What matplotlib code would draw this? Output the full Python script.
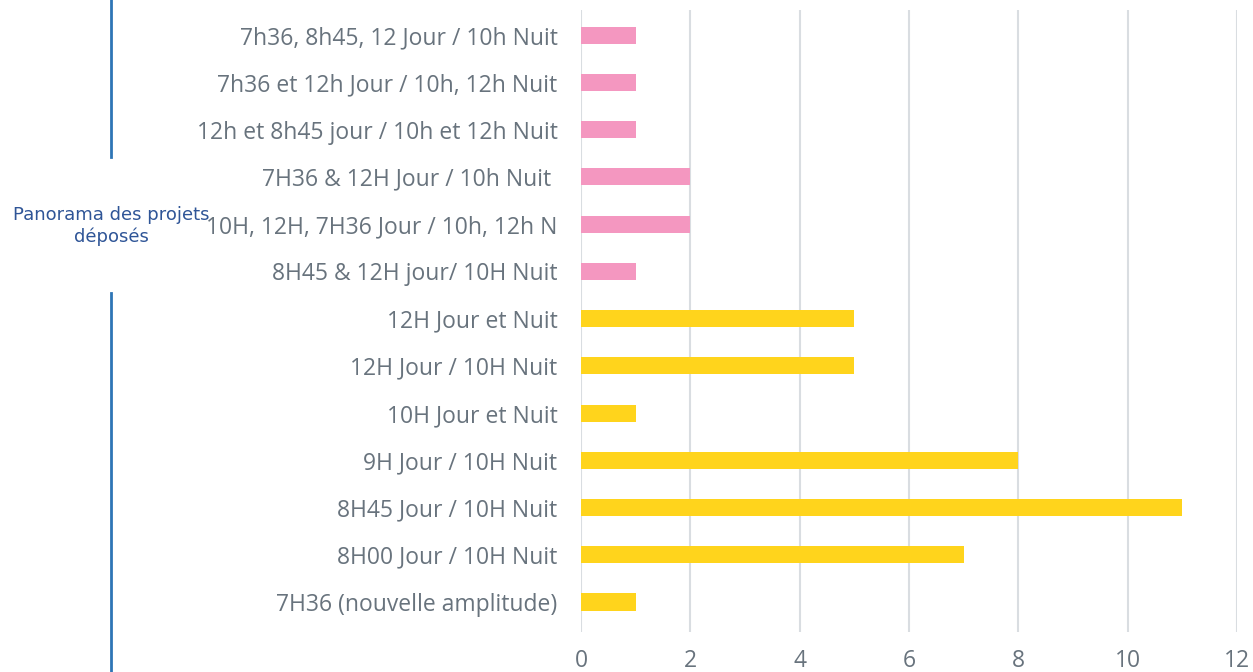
import matplotlib.pyplot as plt
import numpy as np

# categories from bottom to top
labels = ['7H36 (nouvelle amplitude)', '8H00 Jour / 10H Nuit', '8H45 Jour / 10H Nuit',
          '9H Jour / 10H Nuit', '10H Jour et Nuit', '12H Jour / 10H Nuit',
          '12H Jour et Nuit', '8H45 & 12H jour/ 10H Nuit',
          '10H, 12H, 7H36 Jour / 10h, 12h N', '7H36 & 12H Jour / 10h Nuit ',
          '12h et 8h45 jour / 10h et 12h Nuit', '7h36 et 12h Jour / 10h, 12h Nuit',
          '7h36, 8h45, 12 Jour / 10h Nuit']
values = [1, 7, 11, 8, 1, 5, 5, 1, 2, 2, 1, 1, 1]
groups = ['std'] * 7 + ['mix'] * 6
colors = {'std': '#ffd41c', 'mix': '#f497c0'}

W, H = 1253, 672
fig = plt.figure(figsize=(W / 100, H / 100), dpi=100)
ax = fig.add_axes([581 / W, (H - 632) / H, (1237 - 581) / W, (632 - 10) / H])

y = np.arange(len(labels))
ax.barh(y, values, height=0.36, color=[colors[g] for g in groups], zorder=3)

ax.set_xlim(0, 12)
ax.set_ylim(-0.635, 12.53)
ax.set_xticks(range(0, 13, 2))
ax.set_yticks(y)
ax.set_yticklabels(labels)
ax.grid(axis='x', color='#d9dde1', linewidth=1.5, zorder=0)
for s in ax.spines.values():
    s.set_visible(False)
ax.tick_params(length=0, labelcolor='#68737d')
ax.tick_params(axis='y', pad=17)
ax.tick_params(axis='x', pad=12)
for t in ax.get_yticklabels() + ax.get_xticklabels():
    t.set_fontfamily('Open Sans')
    t.set_fontsize(16.5)

# left side annotation with blue line
fig.add_artist(plt.Line2D([111 / W, 111 / W], [1, (H - 157) / H], color='#2e75b6', lw=2))
fig.add_artist(plt.Line2D([111 / W, 111 / W], [(H - 293) / H, 0], color='#2e75b6', lw=2))
fig.text(111 / W, (H - 226) / H, 'Panorama des projets\ndéposés', ha='center', va='center',
         color='#2f5597', fontsize=13, family='DejaVu Sans', linespacing=1.2)

fig.savefig('out.png', dpi=100)
